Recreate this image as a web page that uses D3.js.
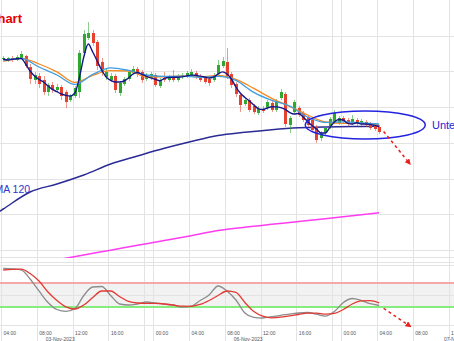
<!DOCTYPE html>
<html>
<head>
<meta charset="utf-8">
<title>DAX 30 Min Chart</title>
<script src="https://cdn.jsdelivr.net/npm/d3@7"></script>
<style>
  body { margin: 0; background: #fff; }
  svg { display: block; font-family: Arial, "Liberation Sans", sans-serif; }
  .grid line { stroke: #e3e3e3; stroke-width: 1px; }
  .xaxis text { fill: #555; font-size: 5px; }
  .datelabel { fill: #555; font-size: 5px; }
  .wick { stroke-width: 1px; opacity: 0.55; }
  path.line { fill: none; }
</style>
</head>
<body>
<script>
// 30-min candles, index = slot (0 = Fri 04:00), [open, high, low, close]
const candles = [
  [15233.7, 15235.8, 15232.3, 15234.4], [15233.0, 15235.1, 15231.6, 15234.4], [15234.4, 15235.8, 15231.6, 15233.0],
  [15233.0, 15236.5, 15232.3, 15235.1], [15234.4, 15239.3, 15233.7, 15237.2], [15235.8, 15236.5, 15227.4, 15228.8],
  [15228.1, 15230.2, 15216.2, 15219.7], [15219.0, 15224.6, 15216.2, 15222.5], [15221.8, 15223.9, 15213.4, 15216.2],
  [15219.0, 15221.8, 15208.5, 15210.6], [15210.6, 15216.9, 15207.8, 15215.5], [15215.5, 15217.6, 15209.9, 15212.0],
  [15212.0, 15216.2, 15210.6, 15214.1], [15214.1, 15215.5, 15205.0, 15207.8], [15210.6, 15212.0, 15199.4, 15203.6],
  [15205.0, 15209.2, 15203.6, 15207.8], [15207.8, 15214.8, 15206.4, 15213.4], [15210.6, 15240.0, 15206.4, 15237.9],
  [15237.9, 15254.0, 15235.8, 15251.2], [15248.4, 15259.6, 15247.0, 15251.9], [15251.9, 15254.0, 15242.8, 15244.9],
  [15245.6, 15247.0, 15226.0, 15228.8], [15231.6, 15234.4, 15221.8, 15224.6], [15221.1, 15226.7, 15219.0, 15224.6],
  [15219.0, 15223.9, 15217.6, 15221.8], [15221.8, 15223.2, 15209.9, 15212.0], [15209.9, 15218.3, 15207.8, 15216.9],
  [15216.2, 15221.1, 15214.8, 15219.7], [15219.7, 15226.0, 15218.3, 15224.6], [15223.9, 15228.8, 15222.5, 15226.7],
  [15226.7, 15228.1, 15221.1, 15223.2], [15224.6, 15226.0, 15216.9, 15219.0], [15219.7, 15223.9, 15218.3, 15222.5],
  [15220.4, 15224.6, 15219.0, 15223.2], [15222.5, 15223.9, 15214.1, 15215.5], [15214.8, 15220.4, 15213.4, 15219.0],
  [15220.4, 15224.6, 15217.6, 15219.0], [15219.0, 15222.5, 15217.6, 15221.1], [15221.1, 15226.0, 15217.6, 15219.0],
  [15219.0, 15223.2, 15217.6, 15221.8], [15221.1, 15223.9, 15219.7, 15222.5], [15221.8, 15225.3, 15220.4, 15223.9],
  [15222.5, 15226.7, 15221.1, 15224.6], [15223.9, 15225.3, 15219.7, 15221.1], [15221.8, 15223.2, 15217.6, 15219.0],
  [15220.4, 15221.8, 15216.2, 15217.6], [15219.7, 15221.1, 15214.8, 15216.9], [15219.0, 15223.9, 15217.6, 15222.5],
  [15223.2, 15233.0, 15221.8, 15229.5], [15228.8, 15235.1, 15227.4, 15232.3], [15231.6, 15241.4, 15219.7, 15221.8],
  [15223.2, 15224.6, 15213.4, 15215.5], [15216.2, 15217.6, 15207.1, 15209.2], [15208.5, 15209.9, 15196.6, 15201.5],
  [15202.2, 15206.4, 15200.8, 15205.0], [15205.0, 15206.4, 15196.6, 15198.0], [15200.8, 15202.2, 15195.2, 15196.6],
  [15195.9, 15200.8, 15194.5, 15198.7], [15198.7, 15200.8, 15195.9, 15197.3], [15199.4, 15205.0, 15198.0, 15203.6],
  [15202.9, 15204.3, 15196.6, 15198.0], [15198.0, 15205.7, 15196.6, 15204.3], [15206.4, 15212.7, 15205.0, 15210.6],
  [15209.2, 15210.6, 15186.1, 15188.2], [15187.5, 15193.8, 15181.9, 15192.4], [15196.6, 15205.0, 15195.2, 15203.6],
  [15199.4, 15200.8, 15193.1, 15194.5], [15195.9, 15197.3, 15189.6, 15191.0], [15193.1, 15194.5, 15186.1, 15187.5],
  [15191.0, 15192.4, 15182.6, 15184.0], [15186.1, 15187.5, 15174.9, 15177.0], [15178.4, 15183.3, 15176.3, 15181.9],
  [15181.9, 15186.8, 15180.5, 15185.4], [15186.1, 15193.1, 15184.7, 15191.7], [15189.6, 15198.0, 15188.2, 15195.9],
  [15188.9, 15193.8, 15187.5, 15192.4], [15192.4, 15193.8, 15188.9, 15190.3], [15191.0, 15192.4, 15186.8, 15188.2],
  [15188.9, 15194.5, 15187.5, 15191.7], [15191.0, 15192.4, 15186.8, 15188.2], [15188.2, 15191.7, 15186.8, 15190.3],
  [15189.6, 15191.0, 15186.1, 15187.5], [15188.2, 15189.6, 15184.0, 15185.4], [15187.5, 15188.9, 15183.3, 15184.7],
  [15186.1, 15187.5, 15181.2, 15182.6]
];

// fast average (dark blue), one value per slot
const emaFast = [
  15233.7, 15233.0, 15233.4, 15233.9, 15234.1, 15230.2, 15225.3, 15221.8, 15219.4, 15217.6,
  15214.8, 15212.4, 15210.8, 15209.2, 15208.2, 15207.8, 15209.9, 15220.4, 15235.1, 15244.2,
  15238.6, 15232.3, 15226.0, 15221.1, 15218.7, 15217.6, 15217.6, 15218.3, 15220.4, 15223.2,
  15224.3, 15222.9, 15221.6, 15220.5, 15219.5, 15218.5, 15220.1, 15220.8, 15220.9, 15220.9,
  15221.2, 15221.9, 15222.4, 15222.3, 15221.7, 15221.1, 15220.4, 15221.0, 15223.2, 15224.7,
  15223.2, 15219.7, 15214.1, 15209.7, 15206.8, 15204.3, 15201.5, 15199.0, 15198.3, 15199.3,
  15200.3, 15200.2, 15199.7, 15198.4, 15196.3, 15195.2, 15195.5, 15193.1, 15190.0, 15187.1,
  15184.7, 15181.9, 15181.9, 15185.8, 15189.6, 15191.4, 15191.0, 15188.6, 15188.2, 15189.1,
  15188.2, 15188.2, 15187.9, 15187.2, 15186.5
];

// slower averages, every 4th slot
const maSlots = [0, 4, 8, 12, 16, 20, 24, 28, 32, 36, 40, 44, 48, 52, 56, 60, 64, 68, 72, 76, 80, 84];
const maOrange = [15232.0, 15234.1, 15230.2, 15224.7, 15217.3, 15222.3, 15225.5, 15225.3, 15221.1, 15221.2, 15221.8,
                  15221.3, 15222.2, 15219.4, 15213.1, 15206.1, 15200.6, 15194.5, 15189.6, 15188.6, 15188.7, 15187.5];
const maLightBlue = [15233.0, 15234.1, 15228.1, 15222.5, 15215.9, 15222.9, 15227.5, 15225.7, 15222.5, 15221.5, 15221.7,
                     15220.9, 15221.6, 15218.7, 15210.3, 15204.7, 15200.8, 15193.1, 15189.3, 15189.7, 15188.9, 15188.2];

// long averages, every 6th slot
const sma120Slots = [-6, 0, 6, 12, 18, 24, 30, 36, 42, 48, 54, 60, 66, 72, 78, 84];
const sma120 = [15116.8, 15128.7, 15140.6, 15146.2, 15152.5, 15160.2, 15165.8, 15171.2, 15176.0, 15180.2,
                15182.4, 15184.2, 15185.5, 15186.1, 15186.4, 15186.6];
const sma200Slots = [12, 18, 24, 30, 36, 42, 48, 54, 60, 66, 72, 78, 84];
const sma200 = [15093.1, 15096.5, 15099.9, 15103.3, 15106.7, 15110.0, 15113.6, 15116.0, 15118.0, 15119.9,
                15121.9, 15123.9, 15126.0];

// oscillator, every 2nd slot
const oscSlots = d3.range(0, 85, 2);
const oscFast = [94.5, 93.7, 91.7, 76.7, 56.7, 37.5, 25.8, 22.8, 27.2, 49.2, 63.3, 64.2, 49.2, 35, 33.3, 35, 38.3, 36.7,
                 35, 33, 29.7, 31.3, 40.8, 50, 65, 56.7, 41.7, 20, 12.8, 11.7, 14, 16.2, 18, 20, 20.8, 18, 14.7, 22.5,
                 37.5, 44.2, 40.8, 35.5, 32.5];
const oscSlow = [91.7, 92.8, 93, 85.8, 73.3, 55, 40.8, 30.3, 26.7, 33.3, 45.8, 56.7, 56.7, 47.5, 39.2, 36.7, 36.2, 36.2,
                 35, 33.3, 31.3, 31.2, 34.2, 40.8, 49.2, 56.7, 54.2, 37.5, 22.5, 14.7, 12, 13, 15.3, 17.5, 19.7, 19.7,
                 18, 19.3, 25.8, 35, 40.3, 40.5, 36.7];
const oscLevels = [30, 70];

// axis
const gridSlots = [0, 8, 16, 24, 32, 34, 42, 50, 58, 66, 74, 76, 84, 92, 100];
const labelSlots = [0, 8, 16, 24, 34, 42, 50, 58, 66, 76, 84, 92, 100];
const timeLabels = ["04:00", "08:00", "12:00", "16:00", "00:00", "04:00", "08:00", "12:00", "16:00",
                    "00:00", "04:00", "08:00", "12:00"];
const dateSlots = [10, 52, 99];
const dateLabels = ["03-Nov-2023", "06-Nov-2023", "07-Nov-2023"];
const priceTicks = [15100, 15125, 15150, 15175, 15200, 15225, 15250];
const oscTicks = [0, 50, 100];

// annotations (slot, price / value)
const zone = { slot: 80.9, price: 15187.5, halfSlots: 13.4, halfPrice: 9.8 };
const arrowMain = [[85.0, 15183.0], [90.9, 15160.2]];
const arrowOsc = [[85.0, 27.8], [91.0, -2.5]];

const width = 454, height = 341;
const mainBottom = 258;

const x = d3.scaleLinear().domain([0, 100]).range([1, 448.5]);
const y = d3.scaleLinear().domain([15100, 15275]).range([250, 0]);
const yo = d3.scaleLinear().domain([0, 100]).range([325, 265]);
const cx = s => x(s + 0.5);

const svg = d3.select("body").append("svg")
  .attr("width", width)
  .attr("height", height);

svg.append("defs").append("clipPath").attr("id", "mainclip")
  .append("rect").attr("x", 0).attr("y", 0).attr("width", width).attr("height", mainBottom);
svg.select("defs").append("marker")
  .attr("id", "arrow")
  .attr("viewBox", "0 0 10 10")
  .attr("refX", 8).attr("refY", 5)
  .attr("markerWidth", 4).attr("markerHeight", 4)
  .attr("orient", "auto")
  .append("path").attr("d", "M0,0L10,5L0,10Z").attr("fill", "#e8201c");

// oscillator zone
svg.append("rect")
  .attr("x", 0).attr("width", width)
  .attr("y", yo(oscLevels[1])).attr("height", yo(oscLevels[0]) - yo(oscLevels[1]))
  .attr("fill", "#f2f2f2");

// grid
const grid = svg.append("g").attr("class", "grid");
grid.selectAll(".hmain").data(priceTicks).join("line")
  .attr("x1", 0).attr("x2", width)
  .attr("y1", d => Math.round(y(d)) + 0.5).attr("y2", d => Math.round(y(d)) + 0.5);
grid.append("line").attr("x1", 0).attr("x2", width).attr("y1", 257.5).attr("y2", 257.5);
grid.append("line").attr("x1", 0).attr("x2", width).attr("y1", 262.5).attr("y2", 262.5);
grid.selectAll(".hosc").data(oscTicks).join("line")
  .attr("x1", 0).attr("x2", width)
  .attr("y1", d => Math.round(yo(d)) + 0.5).attr("y2", d => Math.round(yo(d)) + 0.5);
grid.selectAll(".v").data(gridSlots).join("line")
  .attr("x1", d => Math.round(x(d)) + 0.5).attr("x2", d => Math.round(x(d)) + 0.5)
  .attr("y1", 0).attr("y2", height);

svg.selectAll(".level").data(oscLevels).join("line")
  .attr("x1", 0).attr("x2", width)
  .attr("y1", d => yo(d)).attr("y2", d => yo(d))
  .attr("stroke", (d, i) => i === 0 ? "#86ec7e" : "#f4a9a9")
  .attr("stroke-width", 2);

// main panel
const main = svg.append("g").attr("clip-path", "url(#mainclip)");

const longLine = d3.line().curve(d3.curveMonotoneX);
main.append("path").attr("class", "line")
  .attr("d", longLine(sma200Slots.map((s, i) => [cx(s), y(sma200[i])])))
  .attr("stroke", "#ff3cf0").attr("stroke-width", 1.5);
main.append("path").attr("class", "line")
  .attr("d", longLine(sma120Slots.map((s, i) => [cx(s), y(sma120[i])])))
  .attr("stroke", "#2b2b95").attr("stroke-width", 1.5);

const up = "#2fa82f", down = "#e5432f";
const cg = main.append("g");
cg.selectAll(".wick").data(candles).join("line")
  .attr("class", "wick")
  .attr("x1", (d, i) => Math.round(cx(i)) + 0.5).attr("x2", (d, i) => Math.round(cx(i)) + 0.5)
  .attr("y1", d => y(d[1])).attr("y2", d => y(d[2]))
  .attr("stroke", d => d[3] >= d[0] ? up : down);
cg.selectAll(".body").data(candles).join("rect")
  .attr("x", (d, i) => Math.round(cx(i)) - 1)
  .attr("width", 3)
  .attr("y", d => y(Math.max(d[0], d[3])))
  .attr("height", d => Math.max(1, Math.abs(y(d[0]) - y(d[3]))))
  .attr("fill", d => d[3] >= d[0] ? up : down);

const smooth = d3.line().curve(d3.curveMonotoneX);
main.append("path").attr("class", "line")
  .attr("d", smooth(maSlots.map((s, i) => [cx(s), y(maOrange[i])])))
  .attr("stroke", "#f7881f").attr("stroke-width", 1.3);
main.append("path").attr("class", "line")
  .attr("d", smooth(maSlots.map((s, i) => [cx(s), y(maLightBlue[i])])))
  .attr("stroke", "#3e9ee0").attr("stroke-width", 1.3);
main.append("path").attr("class", "line")
  .attr("d", smooth(emaFast.map((v, i) => [cx(i), y(v)])))
  .attr("stroke", "#16168a").attr("stroke-width", 1.4);

// annotations
main.append("ellipse")
  .attr("cx", cx(zone.slot)).attr("cy", y(zone.price))
  .attr("rx", x(zone.halfSlots) - x(0))
  .attr("ry", y(zone.price - zone.halfPrice) - y(zone.price))
  .attr("fill", "none").attr("stroke", "#2424e0").attr("stroke-width", 1.5);

const arrowLine = d3.line();
main.append("path").attr("class", "line")
  .attr("d", arrowLine(arrowMain.map(d => [cx(d[0]), y(d[1])])))
  .attr("stroke", "#e8201c").attr("stroke-width", 1.5)
  .attr("stroke-dasharray", "3,3").attr("marker-end", "url(#arrow)");

svg.append("text")
  .attr("x", 22).attr("y", 23).attr("text-anchor", "end")
  .attr("font-size", 13).attr("font-weight", "bold").attr("fill", "#e60000")
  .text("Chart");
svg.append("text")
  .attr("x", cx(6)).attr("y", y(15140)).attr("text-anchor", "end")
  .attr("font-size", 10.5).attr("fill", "#3434c8")
  .text("SMA 120");
svg.append("text")
  .attr("x", x(96.3)).attr("y", y(15185)).attr("font-size", 11).attr("fill", "#2424d8")
  .text("Unterstützung");

// oscillator
const oscLine = d3.line().curve(d3.curveMonotoneX);
svg.append("path").attr("class", "line")
  .attr("d", oscLine(oscSlots.map((s, i) => [cx(s), yo(oscFast[i])])))
  .attr("stroke", "#8c8c8c").attr("stroke-width", 1.3);
svg.append("path").attr("class", "line")
  .attr("d", oscLine(oscSlots.map((s, i) => [cx(s), yo(oscSlow[i])])))
  .attr("stroke", "#e23a32").attr("stroke-width", 1.3);
svg.append("path").attr("class", "line")
  .attr("d", arrowLine(arrowOsc.map(d => [cx(d[0]), yo(d[1])])))
  .attr("stroke", "#e8201c").attr("stroke-width", 1.5)
  .attr("stroke-dasharray", "3,3").attr("marker-end", "url(#arrow)");

// x axis labels
const xAxis = d3.axisBottom(x)
  .tickValues(labelSlots)
  .tickFormat((d, i) => timeLabels[i])
  .tickSize(0);
svg.append("g").attr("class", "xaxis")
  .attr("transform", "translate(0,334.5)")
  .call(xAxis)
  .call(g => g.select(".domain").remove())
  .call(g => g.selectAll("text").attr("y", 0).attr("dy", 0).attr("x", 2).attr("text-anchor", "start"));

svg.selectAll(".datelabel").data(dateLabels).join("text")
  .attr("class", "datelabel")
  .attr("x", (d, i) => x(dateSlots[i]))
  .attr("y", 341)
  .text(d => d);
</script>
</body>
</html>
